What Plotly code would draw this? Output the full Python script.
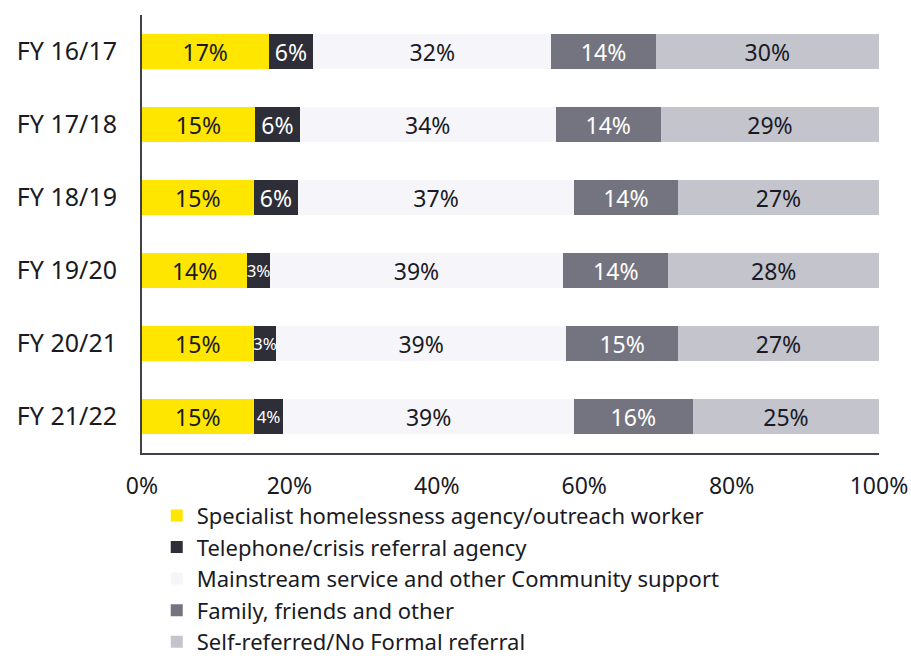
import plotly.graph_objects as go

years = ["FY 16/17", "FY 17/18", "FY 18/19", "FY 19/20", "FY 20/21", "FY 21/22"]
specialist = [17, 15, 15, 14, 15, 15]
telephone = [6, 6, 6, 3, 3, 4]
mainstream = [32, 34, 37, 39, 39, 39]
family = [14, 14, 14, 14, 15, 16]
self_referred = [30, 29, 27, 28, 27, 25]

series = [
    ("Specialist homelessness agency/outreach worker", specialist, "#FFE600", "#1A1A24"),
    ("Telephone/crisis referral agency", telephone, "#2E2E38", "#FFFFFF"),
    ("Mainstream service and other Community support", mainstream, "#F6F6FA", "#1A1A24"),
    ("Family, friends and other", family, "#747480", "#FFFFFF"),
    ("Self-referred/No Formal referral", self_referred, "#C4C4CD", "#1A1A24"),
]

FONT = "Noto Sans"

fig = go.Figure()
for i, (name, vals, color, tcolor) in enumerate(series):
    # very narrow segments get a slightly smaller label
    sizes = [23 if v >= 5 else 17 for v in vals]
    fig.add_trace(go.Bar(
        y=years,
        x=vals,
        name=name,
        orientation="h",
        marker=dict(color=color, line=dict(width=0)),
        text=[f"{v}%" for v in vals],
        textposition="inside",
        insidetextanchor="middle",
        constraintext="none",
        textangle=0,
        textfont=dict(family=FONT, size=sizes, color=tcolor),
        legendgroup=f"g{i}",
        hoverinfo="skip",
    ))

fig.update_layout(
    barmode="stack",
    barnorm="percent",
    bargap=0.51,
    width=911,
    height=661,
    margin=dict(l=142, r=32, t=15, b=208, autoexpand=False),
    paper_bgcolor="white",
    plot_bgcolor="white",
    font=dict(family=FONT, size=23, color="#1A1A24"),
    showlegend=True,
    legend=dict(
        x=0.02, y=-0.095, xanchor="left", yanchor="top",
        orientation="v",
        font=dict(family=FONT, size=22, color="#1A1A24"),
        tracegroupgap=0,
        itemwidth=30,
        traceorder="normal",
    ),
)

fig.update_xaxes(
    range=[0, 100],
    tickvals=[0, 20, 40, 60, 80, 100],
    ticktext=["0%", "20%", "40%", "60%", "80%", "100%"],
    showgrid=False,
    zeroline=False,
    showline=True,
    linecolor="#404048",
    linewidth=2,
    ticks="",
    ticklabelstandoff=11,
    tickfont=dict(size=23),
)
fig.update_yaxes(
    autorange="reversed",
    showgrid=False,
    showline=True,
    linecolor="#404048",
    linewidth=2,
    ticks="",
    ticklabelstandoff=18,
    tickfont=dict(size=25),
)

fig.write_html("out.html")
